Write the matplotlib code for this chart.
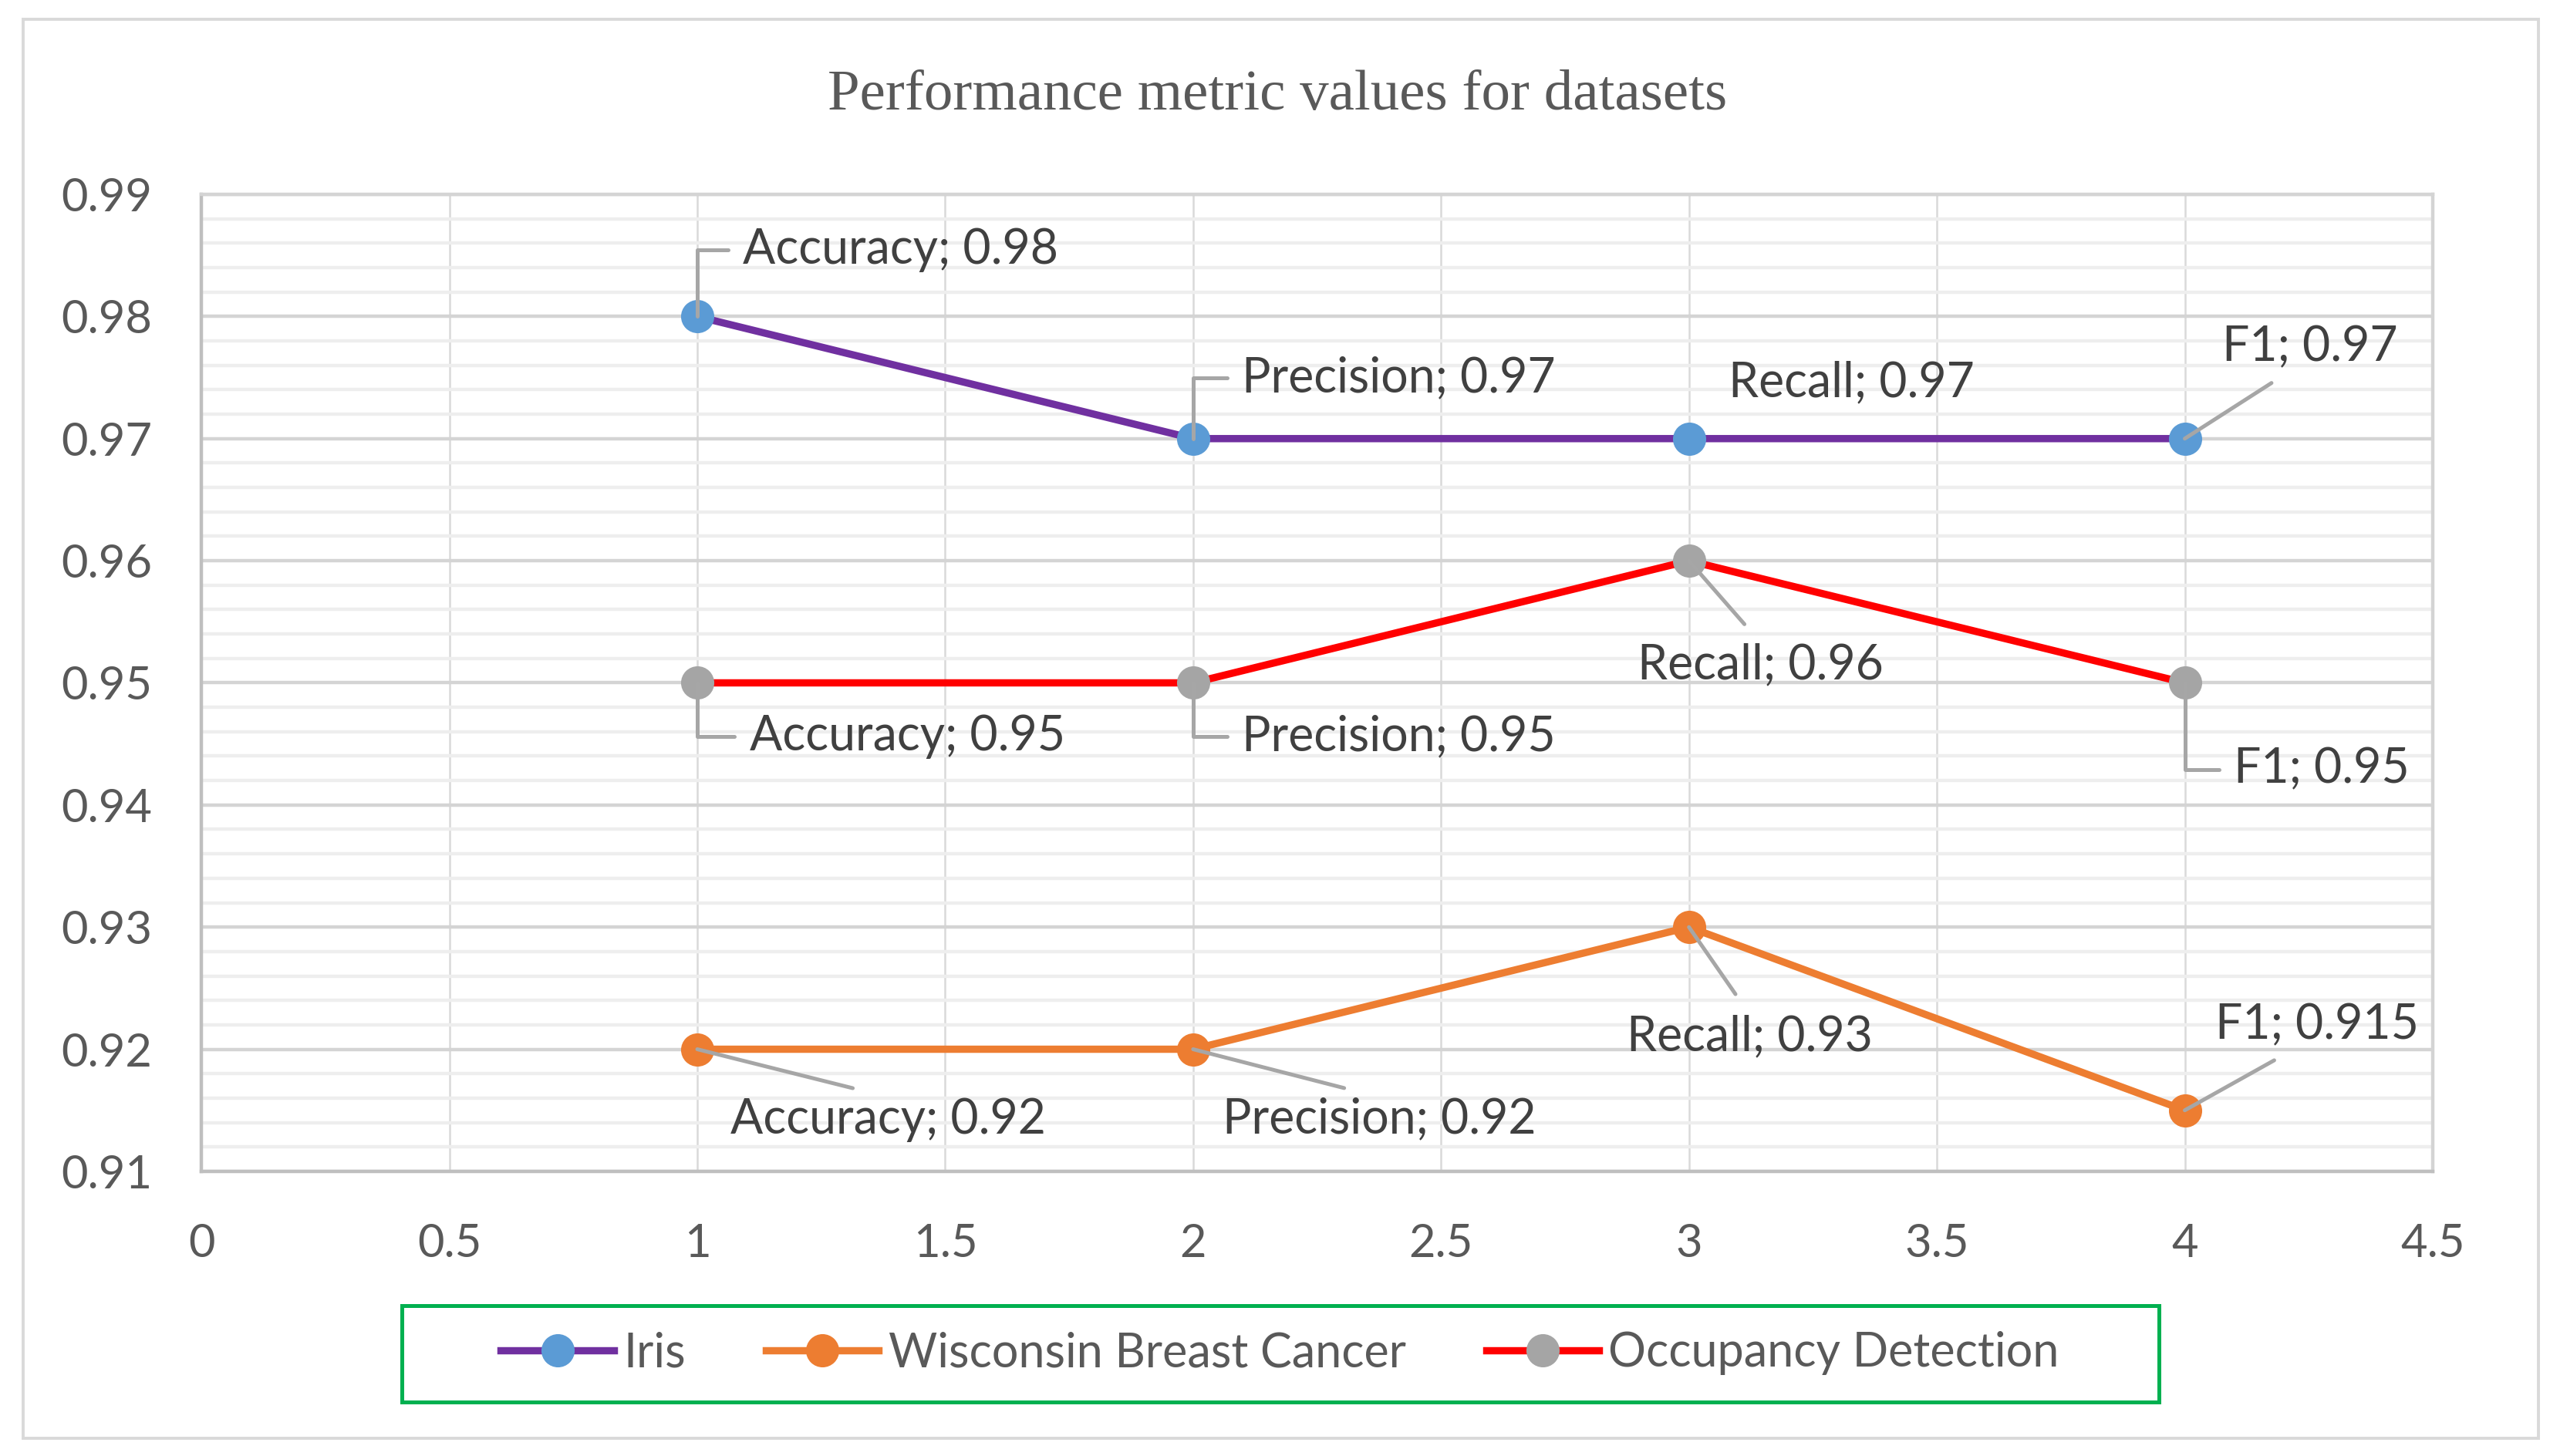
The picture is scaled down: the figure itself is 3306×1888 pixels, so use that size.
import matplotlib as mpl
mpl.use('agg')
import matplotlib.pyplot as plt
from matplotlib.patches import Rectangle
from matplotlib.ticker import MultipleLocator

# data
metrics = ["Accuracy", "Precision", "Recall", "F1"]
positions = [1, 2, 3, 4]
iris = [0.98, 0.97, 0.97, 0.97]
wisconsin = [0.92, 0.92, 0.93, 0.915]
occupancy = [0.95, 0.95, 0.96, 0.95]
series_names = ["Iris", "Wisconsin Breast Cancer", "Occupancy Detection"]

x_ticks = [0, 0.5, 1, 1.5, 2, 2.5, 3, 3.5, 4, 4.5]
x_tick_labels = ["0", "0.5", "1", "1.5", "2", "2.5", "3", "3.5", "4", "4.5"]
y_ticks = [0.91, 0.92, 0.93, 0.94, 0.95, 0.96, 0.97, 0.98, 0.99]
y_tick_labels = ["0.91", "0.92", "0.93", "0.94", "0.95", "0.96", "0.97", "0.98", "0.99"]

# label placement: (dx, dy) offset in points, text alignment, leader style
K = 0.763
iris_layout = [(28, 41, "left", "L"), (30, 37, "left", "L"),
               (24, 34, "left", None), (23, 56, "left", "up")]
occ_layout = [(32, -33, "left", "L"), (30, -33, "left", "L"),
              (44, -64, "center", "down"), (30, -53, "left", "L")]
wis_layout = [(117, -43, "center", "down"), (114, -43, "center", "down"),
              (37, -67, "center", "down"), (81, 52, "center", "up")]

TXT = "#404040"
AXT = "#595959"
LEAD = "#A6A6A6"
FONT = ["Lato", "DejaVu Sans"]

plt.rcParams['font.family'] = FONT

fig = plt.figure(figsize=(16.53, 9.44), dpi=200)
fig.patch.set_facecolor("white")
ax = fig.add_axes([0.0790, 0.1955, 0.8750, 0.6710])

ax.plot(positions, iris, color="#7030A0", lw=3.4, marker="o", ms=14.5,
        mfc="#5B9BD5", mec="#5B9BD5", label=series_names[0], zorder=3)
ax.plot(positions, wisconsin, color="#ED7D31", lw=3.4, marker="o", ms=14.5,
        mfc="#ED7D31", mec="#ED7D31", label=series_names[1], zorder=3)
ax.plot(positions, occupancy, color="#FF0000", lw=3.4, marker="o", ms=14.5,
        mfc="#A5A5A5", mec="#A5A5A5", label=series_names[2], zorder=3)


def add_labels(values, layout):
    for x, v, m, (dx, dy, ha, kind) in zip(positions, values, metrics, layout):
        txt = "%s; %s" % (m, format(v, "g"))
        props = None
        if kind == "L":
            props = dict(arrowstyle="-", color=LEAD, lw=1.8, shrinkA=5, shrinkB=0,
                         relpos=(0, 0.5),
                         connectionstyle="angle,angleA=0,angleB=90,rad=0")
        elif kind == "up":
            props = dict(arrowstyle="-", color=LEAD, lw=1.8, shrinkA=8, shrinkB=0,
                         relpos=(0.4, 0))
        elif kind == "down":
            props = dict(arrowstyle="-", color=LEAD, lw=1.8, shrinkA=9, shrinkB=0,
                         relpos=(0.5, 1))
        ax.annotate(txt, xy=(x, v), xytext=(dx * K, dy * K),
                    textcoords="offset points", ha=ha, va="center",
                    fontsize=22.5, color=TXT, arrowprops=props, zorder=4)


add_labels(iris, iris_layout)
add_labels(occupancy, occ_layout)
add_labels(wisconsin, wis_layout)

ax.set_xlim(0, 4.5)
ax.set_ylim(0.91, 0.99)
ax.set_xticks(x_ticks)
ax.set_xticklabels(x_tick_labels)
ax.set_yticks(y_ticks)
ax.set_yticklabels(y_tick_labels)
ax.yaxis.set_minor_locator(MultipleLocator(0.002))
ax.tick_params(axis="both", which="both", length=0, labelsize=21.5, labelcolor=AXT)
ax.tick_params(axis="x", pad=24)
ax.tick_params(axis="y", pad=23)

ax.set_axisbelow(True)
ax.grid(axis="y", which="minor", color="#EEEEEE", lw=1.6)
ax.grid(axis="y", which="major", color="#D4D4D4", lw=1.6)
ax.grid(axis="x", which="major", color="#D9D9D9", lw=0.9)
for s in ax.spines.values():
    s.set_color("#D4D4D4")
    s.set_linewidth(1.6)
ax.spines["left"].set_color("#BFBFBF")
ax.spines["bottom"].set_color("#BFBFBF")

fig.text(0.501, 0.934, "Performance metric values for datasets", ha="center",
         va="center", fontsize=27, color=AXT, family="Liberation Serif")

# outer chart border and green legend frame
fig.patches.append(Rectangle((0.0091, 0.0122), 0.9864, 0.9746, transform=fig.transFigure,
                             fill=False, edgecolor="#D9D9D9", lw=1.4, zorder=0))
fig.patches.append(Rectangle((0.1576, 0.0372), 0.6890, 0.0662, transform=fig.transFigure,
                             fill=False, edgecolor="#00B050", lw=1.8, zorder=5))

handles, labels = ax.get_legend_handles_labels()
fig.legend(handles, labels, loc="center", bbox_to_anchor=(0.502, 0.0705), ncol=3,
           frameon=False, fontsize=22, labelcolor=AXT, handlelength=2.4,
           handletextpad=0.2, columnspacing=1.7, markerscale=1.0)

fig.savefig("out.png", dpi=200)
